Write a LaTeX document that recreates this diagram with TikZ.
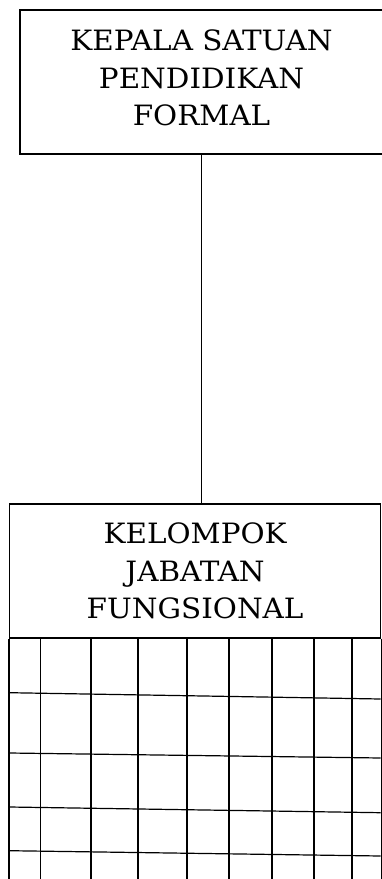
\documentclass[tikz,border=0pt]{standalone}
\usepackage{fontspec}
\setmainfont{DejaVu Serif}[FakeStretch=1.05]
\begin{document}
\begin{tikzpicture}[x=1pt,y=-1pt,
  line width=1.3pt,
  orgbox/.style={draw, rectangle, align=center, inner sep=0pt,
    font=\fontsize{28}{37.5}\selectfont},
  gridline/.style={line width=1.2pt}]
\useasboundingbox (0,0) rectangle (382,879);
\clip (0,0) rectangle (382,879);
\node[orgbox, minimum width=363pt, minimum height=144pt, text depth=8pt] (kepala) at (201.5,82)
  {KEPALA SATUAN\\PENDIDIKAN\\FORMAL};
\node[orgbox, minimum width=371.2pt, minimum height=134pt, text depth=0pt] (kelompok) at (195.1,571)
  {KELOMPOK\\JABATAN\\FUNGSIONAL};
\draw (kepala.south) -- (kepala.south |- kelompok.north);
% grid below the header
\coordinate (gl) at (kelompok.south west);
\coordinate (gr) at (kelompok.south east);
\draw (gl) -- ++(0,260);
\draw (gr) -- ++(0,260);
\foreach \x in {40.7,91,138,187,229,272,314,352}
  \draw[gridline] (\x,638) -- (\x,890);
\foreach \a/\b in {692.7/699,753/758,807/812.7,850.7/856}
  \draw[gridline] (9.5,\a) -- (380.7,\b);
\end{tikzpicture}
\end{document}
